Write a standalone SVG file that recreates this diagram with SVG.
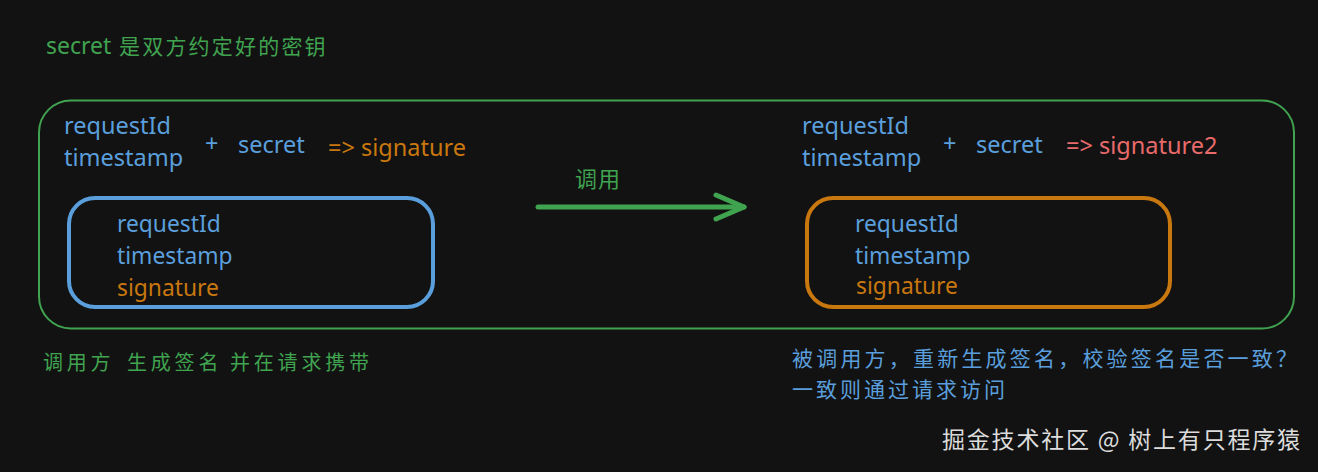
<svg xmlns="http://www.w3.org/2000/svg" width="1318" height="472" viewBox="0 0 1318 472">
<defs>
<style>
text{font-family:"Noto Sans","Noto Sans CJK SC",sans-serif}
.b{fill:#5a9fdc}
.o{fill:#c9770f}
.r{fill:#e86a6a}
.g{fill:#40a350}
.big{font-size:23.5px}
.mid{font-size:22.8px}
.cj{font-family:"Noto Sans CJK SC","Noto Sans",sans-serif}
</style>
</defs>
<rect width="1318" height="472" fill="#121212"/>
<text class="g" y="54"><tspan x="46" font-size="23">secret</tspan><tspan x="119" class="cj" font-size="21" letter-spacing="2.2">是双方约定好的密钥</tspan></text>
<g id="outer">
<rect x="39" y="100.5" width="1255" height="228" rx="32" fill="none" stroke="#40a350" stroke-width="2"/>
</g>
<g id="caller">
<text class="b big" x="64" y="134">requestId</text>
<text class="b big" x="64" y="166">timestamp</text>
<text class="b big" x="205" y="152">+</text>
<text class="b big" x="238" y="153">secret</text>
<text class="o big" x="328" y="156">=&gt; signature</text>
</g>
<g id="request">
<rect x="69" y="198" width="364" height="109" rx="26" fill="none" stroke="#5a9fdc" stroke-width="4"/>
<text class="b mid" x="117" y="232">requestId</text>
<text class="b mid" x="117" y="264">timestamp</text>
<text class="o mid" x="117" y="296">signature</text>
</g>
<g id="callee">
<text class="b big" x="802" y="134">requestId</text>
<text class="b big" x="802" y="166">timestamp</text>
<text class="b big" x="943" y="152">+</text>
<text class="b big" x="976" y="153">secret</text>
<text class="r big" x="1066" y="154">=&gt; signature2</text>
</g>
<g id="received">
<rect x="807" y="198" width="363" height="109" rx="26" fill="none" stroke="#c9770f" stroke-width="4"/>
<text class="b mid" x="855" y="232">requestId</text>
<text class="b mid" x="855" y="264">timestamp</text>
<text class="o mid" x="856" y="294">signature</text>
</g>
<g id="connectors">
<line x1="538" y1="207" x2="744" y2="207" stroke="#40a350" stroke-width="5" stroke-linecap="round"/>
<polyline points="716,195 744,207 716,219" fill="none" stroke="#40a350" stroke-width="5" stroke-linecap="round" stroke-linejoin="round"/>
<text class="g cj" x="575" y="187" font-size="22" letter-spacing="1">调用</text>
</g>
<text class="g cj" y="370" font-size="20" letter-spacing="3.8"><tspan x="43">调用方</tspan><tspan x="127">生成签名</tspan><tspan x="230">并在请求携带</tspan></text>
<text class="b cj" x="792" y="366" font-size="21" letter-spacing="3.2">被调用方，重新生成签名，校验签名是否一致？</text>
<text class="b cj" x="792" y="397" font-size="21" letter-spacing="3">一致则通过请求访问</text>
<text class="cj" x="942" y="448" font-size="23" letter-spacing="1.8" fill="#dcdcdc">掘金技术社区 @ 树上有只程序猿</text>
</svg>
